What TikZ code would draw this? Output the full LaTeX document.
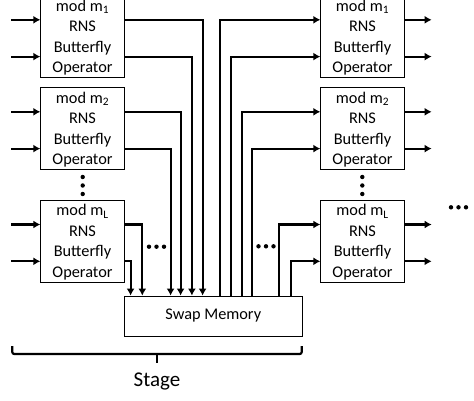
\documentclass[tikz,border=0pt]{standalone}
\usepackage{fontspec}
\setmainfont{Carlito}
\usetikzlibrary{arrows.meta,calc}

\tikzset{
  butterfly/.style={draw,line width=0.8pt,minimum width=83.5pt,minimum height=82pt,
    inner sep=0pt,align=center,text depth=0pt,font=\fontsize{16.3}{20.5}\selectfont},
  memory/.style={draw,line width=0.8pt,minimum width=178pt,minimum height=40pt,
    inner sep=0pt,font=\fontsize{16.3}{19}\selectfont},
  wire/.style={line width=2.2pt},
  dot/.style={circle,fill,inner sep=0pt,minimum size=4.4pt}
}

\begin{document}
\begin{tikzpicture}[x=1pt,y=-1pt,->,>={Latex[length=7pt,width=8pt]}]
  \useasboundingbox (0,0) rectangle (474,400);

  % operator columns
  \node[butterfly](lb1) at (82.5,36.3){mod m\textsubscript{1}\\RNS\\Butterfly\\Operator};
  \node[butterfly](lb2) at (82.5,128.3){mod m\textsubscript{2}\\RNS\\Butterfly\\Operator};
  \node[butterfly](lbL) at (82.5,241){mod m\textsubscript{L}\\RNS\\Butterfly\\Operator};
  \node[butterfly](rb1) at (362.5,36.3){mod m\textsubscript{1}\\RNS\\Butterfly\\Operator};
  \node[butterfly](rb2) at (362.5,128.3){mod m\textsubscript{2}\\RNS\\Butterfly\\Operator};
  \node[butterfly](rbL) at (362.5,241){mod m\textsubscript{L}\\RNS\\Butterfly\\Operator};
  \node[memory](swap) at (213.3,316){Swap Memory};

  % inputs and outputs
  \foreach \b in {1,2,L}{
    \foreach \dy in {-16.5,20.3}{
      \draw[wire] ($(lb\b.west)+(-29,\dy)$) -- ($(lb\b.west)+(0,\dy)$);
      \draw[wire] ($(rb\b.east)+(0,\dy)$) -- ($(rb\b.east)+(27,\dy)$);
    }
  }

  % into the swap memory
  \draw[wire] ($(lb1.east)+(0,-16.5)$) -| ($(swap.north west)+(78.7,0)$);
  \draw[wire] ($(lb1.east)+(0,20.3)$) -| ($(swap.north west)+(68,0)$);
  \draw[wire] ($(lb2.east)+(0,-16.5)$) -| ($(swap.north west)+(56.7,0)$);
  \draw[wire] ($(lb2.east)+(0,20.3)$) -| ($(swap.north west)+(46.7,0)$);
  \draw[wire] ($(lbL.east)+(0,-16.5)$) -| ($(swap.north west)+(18.4,0)$);
  \draw[wire] ($(lbL.east)+(0,20.3)$) -| ($(swap.north west)+(6.7,0)$);

  % out of the swap memory
  \draw[wire] ($(swap.north west)+(95.7,0)$) |- ($(rb1.west)+(0,-16.5)$);
  \draw[wire] ($(swap.north west)+(106.7,0)$) |- ($(rb1.west)+(0,20.3)$);
  \draw[wire] ($(swap.north west)+(117.7,0)$) |- ($(rb2.west)+(0,-16.5)$);
  \draw[wire] ($(swap.north west)+(127.7,0)$) |- ($(rb2.west)+(0,20.3)$);
  \draw[wire] ($(swap.north west)+(155,0)$) |- ($(rbL.west)+(0,-16.5)$);
  \draw[wire] ($(swap.north west)+(166.7,0)$) |- ($(rbL.west)+(0,20.3)$);

  % dots
  \foreach \x in {82.7,362.3}
    \foreach \y in {177,185.5,194}
      \node[dot] at (\x,\y){};
  \foreach \x in {149,156.5,164}
    \node[dot] at (\x,246.7){};
  \foreach \x in {258.5,266,273.5}
    \node[dot] at (\x,246.3){};
  \foreach \x in {451,458.5,466}
    \node[dot] at (\x,207.3){};

  % stage brace
  \draw[-,wire,rounded corners=2pt] (12.3,346) -- (12.3,354) -- (301.7,354) -- (301.7,346);
  \draw[-,wire] (157,354) -- (157,363);
  \node[font=\fontsize{21}{24}\selectfont](stage) at (157,381.5){Stage};
\end{tikzpicture}
\end{document}
